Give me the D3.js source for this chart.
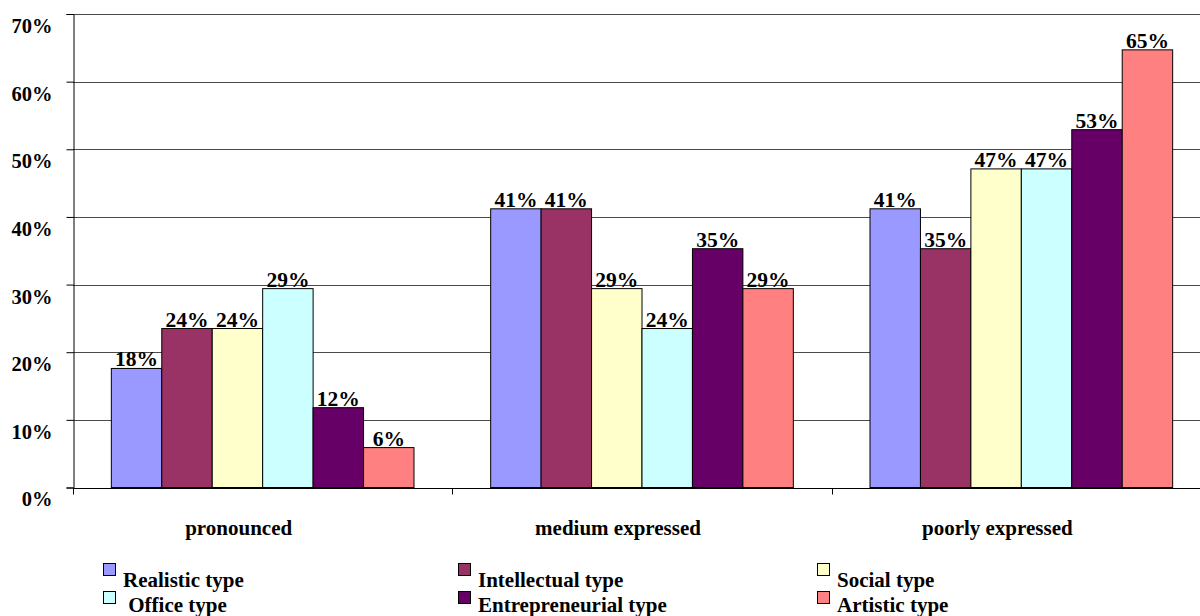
<!DOCTYPE html>
<html>
<head>
<meta charset="utf-8">
<script src="https://cdn.jsdelivr.net/npm/d3@7"></script>
<style>
  html, body { margin: 0; padding: 0; background: #fff; }
  svg { display: block; }
  text { font-family: "Liberation Serif", "Times New Roman", serif; font-weight: bold; fill: #000; }
</style>
</head>
<body>
<div id="chart"></div>
<script>
// Data: share of respondents per type, by level of expression
const categories = ['pronounced', 'medium expressed', 'poorly expressed']
const series = ['Realistic type', 'Intellectual type', 'Social type', 'Office type', 'Entrepreneurial type', 'Artistic type']
const values = {
  'Realistic type':       [17.6, 41.2, 41.2],
  'Intellectual type':    [23.5, 41.2, 35.3],
  'Social type':          [23.5, 29.4, 47.1],
  'Office type':          [29.4, 23.5, 47.1],
  'Entrepreneurial type': [11.8, 35.3, 52.9],
  'Artistic type':        [5.9, 29.4, 64.7]
}
const yTicks = [0, 10, 20, 30, 40, 50, 60, 70]
const colors = ['#9999FF', '#993366', '#FFFFCC', '#CCFFFF', '#660066', '#FF8080']

const width = 1200
const height = 616
const plot = { left: 73, right: 1211, top: 14, bottom: 487.5 }

const svg = d3.select('#chart').append('svg')
  .attr('width', width).attr('height', height)
  .attr('viewBox', `0 0 ${width} ${height}`)

const x0 = d3.scaleBand().domain(categories).range([plot.left, plot.right]).padding(0)
const x1 = d3.scaleBand().domain(series).range([0, x0.bandwidth()]).paddingInner(0).paddingOuter(0.76)
const y = d3.scaleLinear().domain([0, 70]).range([plot.bottom, plot.top])
const color = d3.scaleOrdinal().domain(series).range(colors)

// Gridlines
svg.append('g').selectAll('line')
  .data(yTicks.filter(d => d > 0))
  .join('line')
  .attr('x1', plot.left).attr('x2', width)
  .attr('y1', d => Math.round(y(d)) + 0.5).attr('y2', d => Math.round(y(d)) + 0.5)
  .attr('stroke', '#4a4a4a').attr('stroke-width', 1)

// Y axis
svg.append('g')
  .attr('transform', `translate(${plot.left + 0.5},0)`)
  .call(d3.axisLeft(y).tickValues(yTicks).tickSize(7).tickFormat(d => d + '%'))
  .call(g => {
    g.select('.domain').attr('stroke', '#000')
    g.selectAll('.tick line').attr('stroke', '#000')
    g.selectAll('.tick text')
      .attr('x', -21).attr('dy', '0.9em')
      .attr('font-size', '20.5px')
      .attr('font-family', '"Liberation Serif", "Times New Roman", serif')
      .attr('font-weight', 'bold')
      .attr('fill', '#000')
  })

// X axis (baseline with ticks at category boundaries)
const xAxisG = svg.append('g').attr('transform', `translate(0,${Math.round(plot.bottom) + 0.5})`)
xAxisG.append('line')
  .attr('x1', plot.left).attr('x2', plot.right)
  .attr('stroke', '#000')
xAxisG.selectAll('.bound')
  .data(categories.concat(['end']))
  .join('line')
  .attr('class', 'bound')
  .attr('x1', (d, i) => Math.round(i < categories.length ? x0(d) : plot.right) + 0.5)
  .attr('x2', (d, i) => Math.round(i < categories.length ? x0(d) : plot.right) + 0.5)
  .attr('y1', 0).attr('y2', 6)
  .attr('stroke', '#000')
xAxisG.selectAll('.cat')
  .data(categories)
  .join('text')
  .attr('class', 'cat')
  .attr('x', d => x0(d) + x0.bandwidth() / 2 - 24)
  .attr('y', 46)
  .attr('text-anchor', 'middle')
  .attr('font-size', '21px')
  .text(d => d)

// Bars
const groups = svg.append('g').selectAll('g')
  .data(categories)
  .join('g')
  .attr('transform', d => `translate(${x0(d)},0)`)

const cells = groups.selectAll('g')
  .data((c, ci) => series.map(s => ({ cat: c, s, v: values[s][ci] })))
  .join('g')

cells.append('rect')
  .attr('x', d => x1(d.s))
  .attr('y', d => y(d.v))
  .attr('width', x1.bandwidth())
  .attr('height', d => y(0) - y(d.v))
  .attr('fill', d => color(d.s))
  .attr('stroke', '#000').attr('stroke-width', 1)

// Value labels
svg.append('g').selectAll('g')
  .data(categories)
  .join('g')
  .attr('transform', d => `translate(${x0(d)},0)`)
  .selectAll('text')
  .data((c, ci) => series.map(s => ({ s, v: values[s][ci] })))
  .join('text')
  .attr('x', d => x1(d.s) + x1.bandwidth() / 2)
  .attr('y', d => y(d.v) - 2)
  .attr('text-anchor', 'middle')
  .attr('font-size', '21.5px')
  .text(d => Math.round(d.v) + '%')

// Legend: 3 columns x 2 rows
const legendCols = [103, 458, 817]
const legendRows = [563, 591]
const legend = svg.append('g').selectAll('g')
  .data(series)
  .join('g')
  .attr('transform', (d, i) => `translate(${legendCols[i % 3]},${legendRows[Math.floor(i / 3)]})`)

legend.append('rect')
  .attr('x', 0.5).attr('y', 0.5)
  .attr('width', 12).attr('height', 12)
  .attr('fill', d => color(d))
  .attr('stroke', '#000')

legend.append('text')
  .attr('x', 20)
  .attr('y', (d, i) => i < 3 ? 24 : 21)
  .attr('font-size', '21px')
  .text(d => d === 'Office type' ? '\u00a0Office type' : d)
</script>
</body>
</html>
